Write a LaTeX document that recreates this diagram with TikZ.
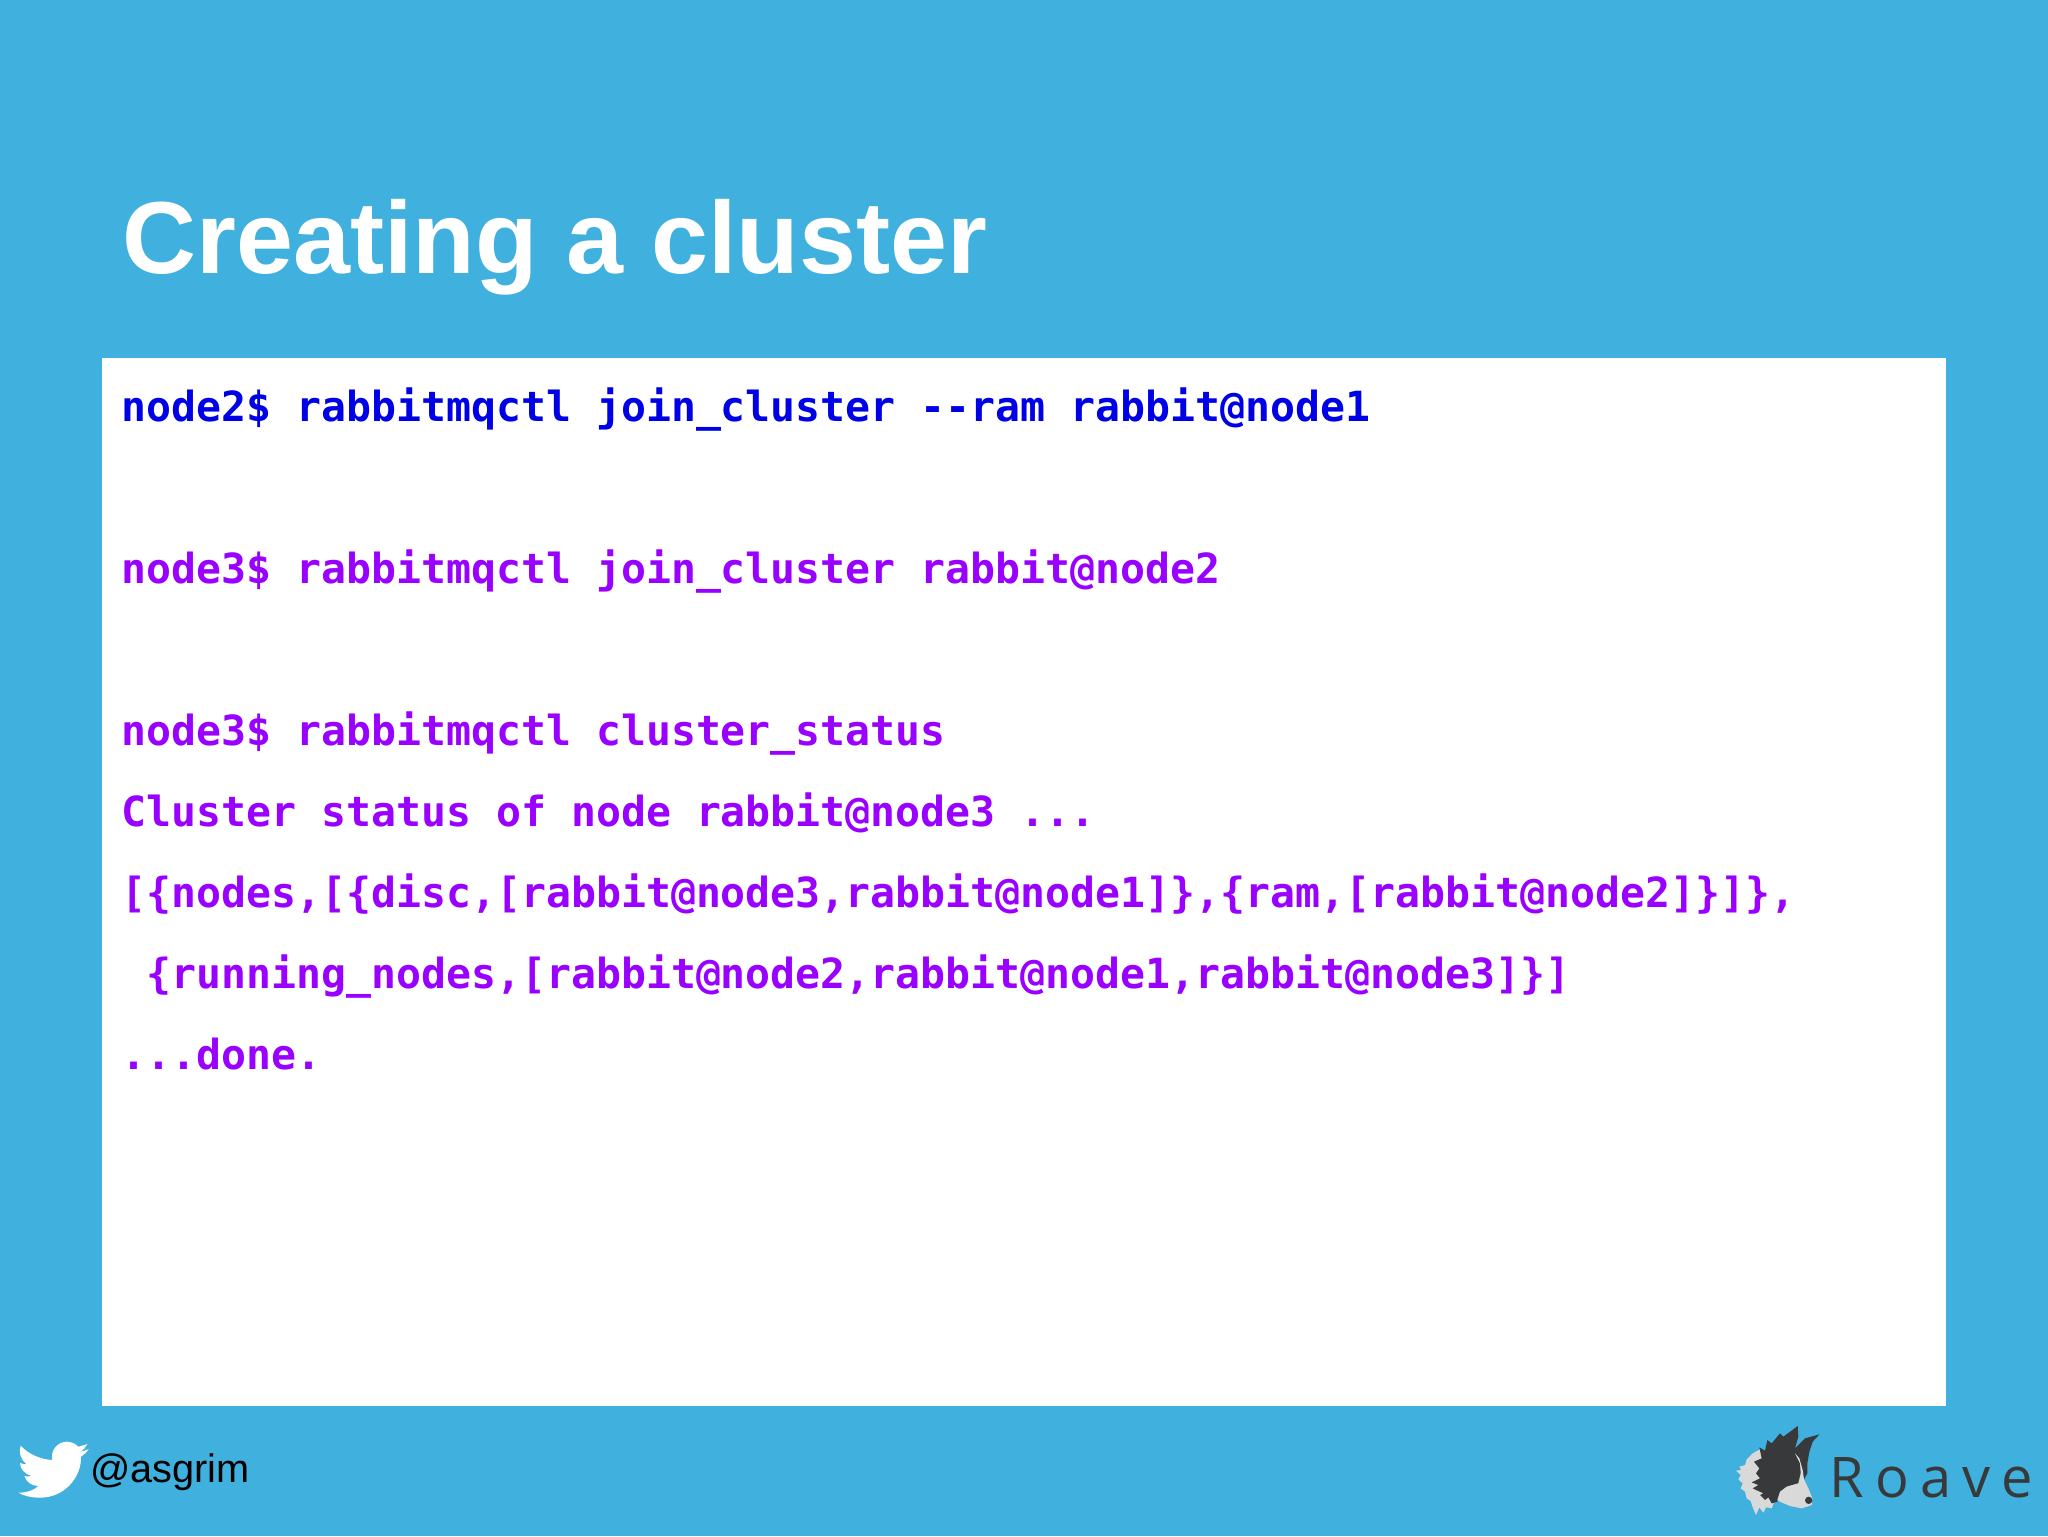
\documentclass[tikz,border=0pt]{standalone}
\usepackage{fontspec}
\setmainfont{Liberation Sans}
\newfontfamily\codefont{DejaVu Sans Mono}
\newfontfamily\roavefont[LetterSpace=20]{Open Sans}
\usetikzlibrary{matrix,positioning}
\definecolor{slideblue}{HTML}{40B0DE}
\definecolor{cmdblue}{HTML}{0000E6}
\definecolor{cmdpurple}{HTML}{9900FF}
\definecolor{dogdark}{HTML}{38393B}
\definecolor{doggrey}{HTML}{D9D9D9}
\tikzset{
mymat/.style={
  matrix of nodes,
  nodes in empty cells,
  inner sep=0pt,
  nodes={anchor=base west,inner sep=0pt,text height=25pt,text depth=15.5pt,
    font=\codefont\bfseries\fontsize{20.75}{24}\selectfont,text=cmdpurple},
  row 1/.style={nodes={text=cmdblue}}
  },
title/.style={anchor=base west,inner sep=0pt,text=white,font=\bfseries\fontsize{51.2}{60}\selectfont},
handle/.style={anchor=base west,inner sep=0pt,text=black,font=\fontsize{19.85}{24}\selectfont},
brand/.style={anchor=base west,inner sep=0pt,text=dogdark,font=\roavefont\fontsize{28}{32}\selectfont}
}

\begin{document}
\begin{tikzpicture}[x=0.5pt,y=-0.5pt]
\useasboundingbox (0,0) rectangle (2048,1536);
\fill[slideblue] (0,0) rectangle (2048,1536);
\fill[white] (102,358) rectangle (1946,1406);

\node[title] (heading) at (122,273) {Creating a cluster};

\matrix[mymat,anchor=north west]
at (121,371)
(term)
{
  node2\$ rabbitmqctl join\_cluster --ram rabbit@node1 \\
  \\
  node3\$ rabbitmqctl join\_cluster rabbit@node2 \\
  \\
  node3\$ rabbitmqctl cluster\_status \\
  Cluster status of node rabbit@node3 ... \\
  {[}\{nodes,[\{disc,[rabbit@node3,rabbit@node1]\},\{ram,[rabbit@node2]\}]\}, \\
  \hphantom{x}\{running\_nodes,[rabbit@node2,rabbit@node1,rabbit@node3]\}] \\
  ...done. \\
};

\node[handle] (twitter) at (90,1482) {@asgrim};
\node[brand] (roave) at (1829,1497) {Roave};

% bird
\begin{scope}[shift={(0,1400)},scale=1/3]
\fill[white] (55,278) .. controls (80,278) and (100,272) .. (115,258)
  .. controls (95,258) and (78,245) .. (73,228)
  .. controls (80,230) and (88,230) .. (95,228)
  .. controls (75,222) and (60,208) .. (60,188)
  .. controls (66,192) and (72,193) .. (80,193)
  .. controls (62,180) and (55,155) .. (62,137)
  .. controls (85,162) and (120,178) .. (157,180)
  .. controls (150,150) and (175,125) .. (200,125)
  .. controls (215,125) and (228,132) .. (235,140)
  .. controls (245,138) and (253,135) .. (262,132)
  .. controls (258,142) and (250,150) .. (240,155)
  .. controls (250,154) and (258,151) .. (266,147)
  .. controls (260,157) and (252,164) .. (243,170)
  .. controls (245,230) and (195,293) .. (120,293)
  .. controls (95,293) and (72,288) .. (55,278) -- cycle;
\end{scope}

% dog
\begin{scope}[shift={(1730,1420)},scale=1/3]
\fill[doggrey] (90,88) -- (68,100) -- (50,118) -- (45,135) -- (28,140) -- (33,150)
  -- (18,152) -- (32,165) -- (25,178) -- (38,190) -- (32,205) -- (45,215)
  -- (50,235) -- (62,243) -- (68,262) -- (78,285) -- (88,262) -- (100,278)
  -- (108,262) -- (125,265) -- (135,240) -- (110,150) -- cycle;
\fill[dogdark] (88,82) -- (105,92) -- (112,60) -- (125,70) -- (150,40) -- (160,50)
  -- (203,18) -- (205,50) -- (195,85) -- (225,55) -- (268,43) -- (248,65)
  -- (238,95) -- (232,130) -- (232,160) -- (222,178) -- (205,190) -- (170,200)
  -- (150,215) -- (142,245) -- (125,250) -- (115,232) -- (105,240) -- (90,225)
  -- (100,220) -- (68,205) -- (85,195) -- (65,187) -- (90,175) -- (78,160)
  -- (88,145) -- (72,125) -- (95,115) -- cycle;
\fill[doggrey] (195,100) -- (208,115) -- (218,150) -- (222,178) -- (235,205) -- (247,235)
  -- (245,255) -- (215,265) -- (180,258) -- (150,245) -- (142,240) -- (150,215)
  -- (170,200) -- (205,190) -- (212,160) -- (210,130) -- cycle;
\fill[dogdark] (236,241) circle (11);
\end{scope}
\end{tikzpicture}
\end{document}
